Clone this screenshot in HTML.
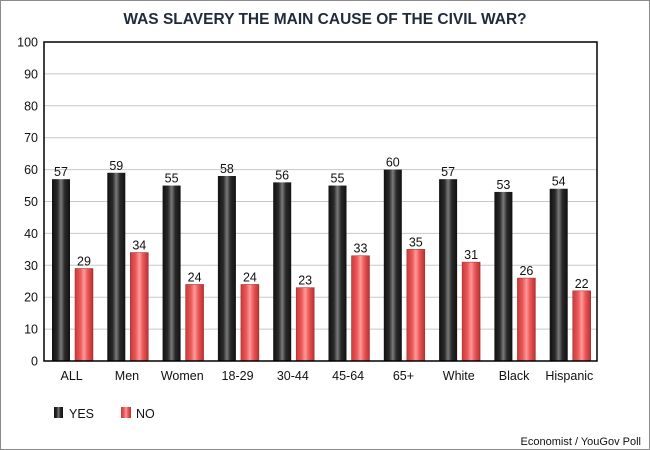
<!DOCTYPE html>
<html><head><meta charset="utf-8"><style>
body{margin:0;background:#fff;}
svg{display:block;font-family:"Liberation Sans",sans-serif;}
</style></head><body>
<svg id="chart" width="650" height="450">
<defs>
<linearGradient id="gy" x1="0" x2="1" y1="0" y2="0">
<stop offset="0" stop-color="#111"/><stop offset="0.3" stop-color="#2a2a2a"/><stop offset="0.5" stop-color="#7a7a7a"/><stop offset="0.7" stop-color="#2a2a2a"/><stop offset="1" stop-color="#111"/></linearGradient>
<linearGradient id="gn" x1="0" x2="1" y1="0" y2="0">
<stop offset="0" stop-color="#c83a3a"/><stop offset="0.3" stop-color="#ec5858"/><stop offset="0.5" stop-color="#ff9a9a"/><stop offset="0.7" stop-color="#ec5858"/><stop offset="1" stop-color="#b83030"/></linearGradient>
</defs>
<rect x="0.5" y="0.5" width="649" height="449" fill="#fff" stroke="#8a8a8a"/>
<text x="325" y="24" text-anchor="middle" font-size="15.5" font-weight="bold" fill="#1f2a3a">WAS SLAVERY THE MAIN CAUSE OF THE CIVIL WAR?</text>
<g id="grid"></g>
<g id="bars"></g>
<rect x="44" y="42" width="553" height="319" fill="none" stroke="#000" stroke-width="1.5"/>
<g>
<rect x="54" y="407" width="9" height="11" fill="url(#gy)"/>
<text x="69" y="418" font-size="12.5" fill="#111">YES</text>
<rect x="121" y="407" width="10" height="11" fill="url(#gn)"/>
<text x="136" y="418" font-size="12.5" fill="#111">NO</text>
</g>
<text x="641" y="445" text-anchor="end" font-size="11" fill="#111">Economist / YouGov Poll</text>
</svg>
<script>
const categories=["ALL","Men","Women","18-29","30-44","45-64","65+","White","Black","Hispanic"];
const yesValues=[57,59,55,58,56,55,60,57,53,54];
const noValues=[29,34,24,24,23,33,35,31,26,22];
const yTicks=[0,10,20,30,40,50,60,70,80,90,100];
const NS="http://www.w3.org/2000/svg";
const L=44,R=597,T=42,B=361;
const band=(R-L)/categories.length;
function y(v){return B-(v/100)*(B-T);}
function x(i){return L+i*band;}
function mk(tag,attrs,parent,txt){const e=document.createElementNS(NS,tag);for(const k in attrs)e.setAttribute(k,attrs[k]);if(txt!==undefined)e.textContent=txt;parent.appendChild(e);return e;}
const grid=document.getElementById('grid'),bars=document.getElementById('bars');
yTicks.forEach(t=>{
  if(t>0&&t<100){const g=mk('line',{x1:L,x2:R,y1:y(t),y2:y(t),stroke:'#c8c8c8'},grid);
  
  }
  const lb=mk('text',{x:38,y:y(t)+4.5,'text-anchor':'end','font-size':'12.5',fill:'#111'},grid,String(t));
  
  
});
categories.forEach((c,i)=>{
  const x0=x(i);
  const yb=mk('rect',{x:x0+8,y:y(yesValues[i]),width:18,height:B-y(yesValues[i]),fill:'url(#gy)'},bars);
  
  
  const nb=mk('rect',{x:x0+31,y:y(noValues[i]),width:18,height:B-y(noValues[i]),fill:'url(#gn)',stroke:'#9a2a2a','stroke-width':'0.5'},bars);
  
  
  const yl=mk('text',{x:x0+17,y:y(yesValues[i])-3,'text-anchor':'middle','font-size':'12.5',fill:'#111'},bars,String(yesValues[i]));
  
  
  const nl=mk('text',{x:x0+40,y:y(noValues[i])-3,'text-anchor':'middle','font-size':'12.5',fill:'#111'},bars,String(noValues[i]));
  
  
  const cl=mk('text',{x:x0+band/2,y:380,'text-anchor':'middle','font-size':'12.5',fill:'#111'},bars,c);
  
  
});
</script>
</body></html>
